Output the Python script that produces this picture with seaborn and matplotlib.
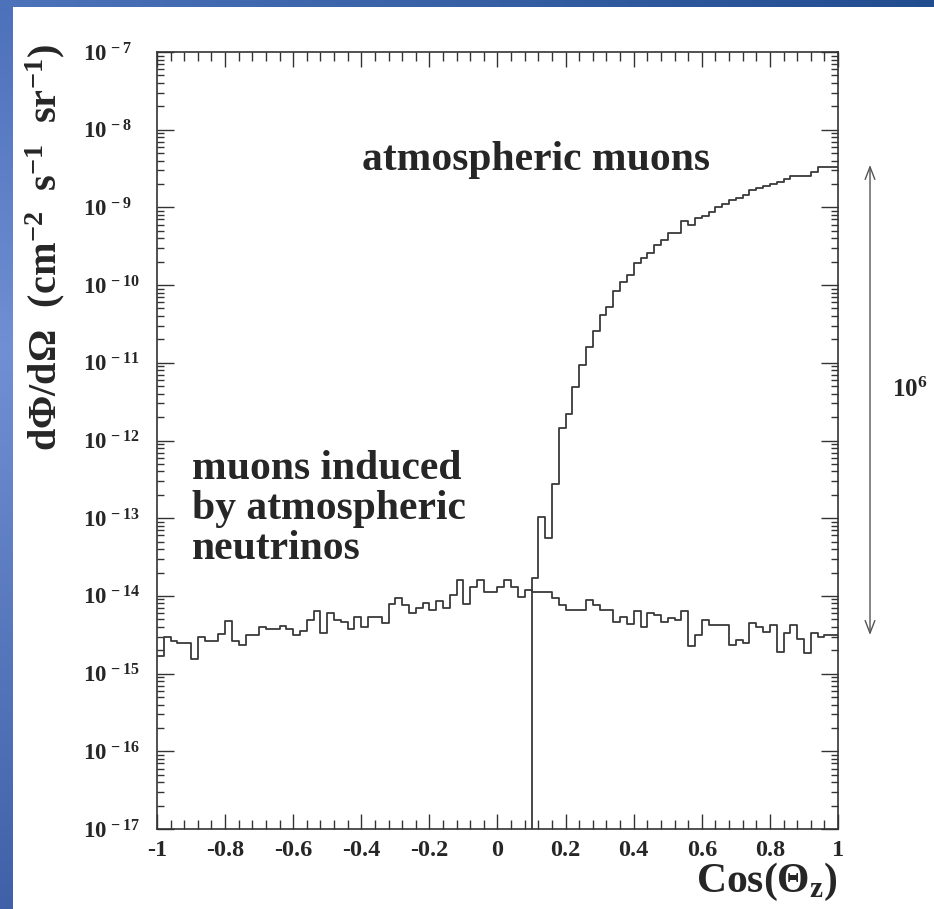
import numpy as np
import pandas as pd
import matplotlib
matplotlib.use("Agg")
import matplotlib.pyplot as plt
import seaborn as sns
from matplotlib.ticker import LogLocator, MultipleLocator, NullFormatter

# ---------------- data ----------------
bin_edges = np.round(np.arange(-1.0, 1.0001, 0.02), 2)   # 100 bins of width 0.02

nu_flux = [
    1.70e-15, 2.95e-15, 2.63e-15, 2.45e-15, 2.45e-15, 1.55e-15, 2.95e-15, 2.63e-15, 2.63e-15, 3.24e-15,
    4.79e-15, 2.63e-15, 2.34e-15, 3.16e-15, 3.16e-15, 3.98e-15, 3.80e-15, 3.80e-15, 4.07e-15, 3.80e-15,
    3.16e-15, 3.55e-15, 4.90e-15, 6.31e-15, 3.31e-15, 6.03e-15, 4.90e-15, 4.68e-15, 3.80e-15, 5.37e-15,
    3.98e-15, 5.37e-15, 5.37e-15, 4.47e-15, 7.94e-15, 9.33e-15, 7.59e-15, 6.03e-15, 6.92e-15, 8.13e-15,
    6.61e-15, 8.71e-15, 6.92e-15, 1.02e-14, 1.58e-14, 7.94e-15, 1.32e-14, 1.58e-14, 1.12e-14, 1.12e-14,
    1.32e-14, 1.62e-14, 1.32e-14, 9.55e-15, 1.20e-14, 1.12e-14, 1.12e-14, 1.12e-14, 9.33e-15, 7.59e-15,
    6.61e-15, 6.61e-15, 6.61e-15, 8.91e-15, 7.59e-15, 6.61e-15, 6.61e-15, 4.68e-15, 5.37e-15, 4.37e-15,
    6.31e-15, 3.98e-15, 6.03e-15, 5.62e-15, 4.68e-15, 5.13e-15, 4.90e-15, 6.31e-15, 2.24e-15, 3.16e-15,
    4.90e-15, 4.27e-15, 4.27e-15, 4.27e-15, 2.34e-15, 2.69e-15, 2.51e-15, 4.47e-15, 3.98e-15, 3.47e-15,
    4.27e-15, 1.91e-15, 3.31e-15, 4.17e-15, 2.82e-15, 1.82e-15, 3.31e-15, 2.95e-15, 3.16e-15, 3.16e-15,
]

mu_flux = [0.0] * 55 + [
    1.70e-14, 1.05e-13, 5.50e-14, 2.75e-13, 1.46e-12, 2.19e-12, 4.90e-12, 9.33e-12, 1.58e-11, 2.57e-11,
    4.17e-11, 5.25e-11, 8.32e-11, 1.11e-10, 1.35e-10, 1.91e-10, 2.21e-10, 2.57e-10, 3.31e-10, 3.80e-10,
    4.68e-10, 4.73e-10, 6.61e-10, 5.89e-10, 7.24e-10, 7.76e-10, 8.81e-10, 1.00e-9, 1.12e-9, 1.26e-9,
    1.32e-9, 1.45e-9, 1.66e-9, 1.78e-9, 1.86e-9, 2.00e-9, 2.14e-9, 2.29e-9, 2.51e-9, 2.51e-9,
    2.51e-9, 2.82e-9, 3.31e-9, 3.31e-9, 3.31e-9,
]

x_ticks = [-1, -0.8, -0.6, -0.4, -0.2, 0, 0.2, 0.4, 0.6, 0.8, 1]
x_tick_labels = ["-1", "-0.8", "-0.6", "-0.4", "-0.2", "0", "0.2", "0.4", "0.6", "0.8", "1"]
y_exponents = [-17, -16, -15, -14, -13, -12, -11, -10, -9, -8, -7]

label_mu = "atmospheric muons"
label_nu = ["muons induced", "by atmospheric", "neutrinos"]
ratio_label = r"$10^{6}$"
xlabel = r"$Cos(\Theta_{z})$"
ylabel = r"$d\Phi/d\Omega\ \ (cm^{-2}\;\ s^{-1}\;\ sr^{-1})$"

# ---------------- style ----------------
sns.set_style("white")
plt.rcParams.update({
    "font.family": ["Liberation Serif", "DejaVu Serif"],
    "font.weight": "bold",
    "mathtext.fontset": "custom",
    "mathtext.rm": "Liberation Serif:bold",
    "mathtext.bf": "Liberation Serif:bold",
    "mathtext.it": "Liberation Serif:bold",
    "mathtext.default": "rm",
    "axes.unicode_minus": False,
})

W, H = 934, 909
fig = plt.figure(figsize=(W / 100, H / 100), dpi=100)
fig.patch.set_facecolor("white")

# blue slide border (left and top)
bg = fig.add_axes([0, 0, 1, 1], zorder=-10)
img = np.ones((H, W, 3))
yy = np.arange(H)
left_cols = np.stack([np.interp(yy, [0, 350, H], c) for c in
                      ([0.30, 0.44, 0.25], [0.44, 0.56, 0.38], [0.73, 0.83, 0.66])], axis=1)
img[:, :13, :] = left_cols[:, None, :]
xx = np.arange(W)
top_cols = np.stack([np.interp(xx, [0, W], c) for c in
                     ([0.30, 0.13], [0.45, 0.30], [0.73, 0.56])], axis=1)
img[:7, :, :] = top_cols[None, :, :]
bg.imshow(img, aspect="auto", interpolation="bilinear")
bg.axis("off")

ax = fig.add_axes([157 / W, 1 - 829 / H, 681 / W, 777 / H])

line_color = "#3a3a3a"
df_nu = pd.DataFrame({"x": bin_edges, "y": list(nu_flux) + [nu_flux[-1]]})
df_mu = pd.DataFrame({"x": bin_edges, "y": list(mu_flux) + [mu_flux[-1]]})
sns.lineplot(data=df_nu, x="x", y="y", drawstyle="steps-post", estimator=None,
             sort=False, color=line_color, lw=1.3, ax=ax)
sns.lineplot(data=df_mu, x="x", y="y", drawstyle="steps-post", estimator=None,
             sort=False, color=line_color, lw=1.3, ax=ax)

ax.set_yscale("log", nonpositive="clip")
ax.set_xlim(-1, 1)
ax.set_ylim(1e-17, 1e-7)

ax.set_xticks(x_ticks, labels=x_tick_labels)
ax.xaxis.set_minor_locator(MultipleLocator(0.04))
ax.set_yticks([10.0 ** e for e in y_exponents],
              labels=[rf"$10^{{\,{e}}}$" for e in y_exponents])
ax.yaxis.set_minor_locator(LogLocator(base=10, subs=np.arange(2, 10), numticks=200))
ax.yaxis.set_minor_formatter(NullFormatter())

for sp in ax.spines.values():
    sp.set_visible(True)
    sp.set_linewidth(1.2)
    sp.set_color("#333333")

ax.tick_params(axis="x", which="major", direction="in", length=10.5, width=1.0,
               color="#333333", top=True, bottom=True, labelsize=17.5, pad=8)
ax.tick_params(axis="x", which="minor", direction="in", length=6.3, width=1.0,
               color="#333333", top=True, bottom=True)
ax.tick_params(axis="y", which="major", direction="in", length=12, width=1.0,
               color="#333333", left=True, right=True, labelsize=16.5, pad=53)
ax.tick_params(axis="y", which="minor", direction="in", length=5.3, width=1.0,
               color="#333333", left=True, right=True)
for lab in ax.get_yticklabels():
    lab.set_horizontalalignment("left")

ax.set_xlabel(xlabel, fontsize=30, loc="right")
ax.xaxis.set_label_coords(1.0, -0.0405)
ax.set_ylabel(ylabel, fontsize=29, loc="top")
ax.yaxis.set_label_coords(-0.132, 1.01)

ax.text(0.301, 0.848, label_mu, transform=ax.transAxes, fontsize=30,
        ha="left", va="baseline")
for i, line in enumerate(label_nu):
    ax.text(0.051, 0.451 - i * 0.0515, line, transform=ax.transAxes, fontsize=30,
            ha="left", va="baseline")

ax.annotate("", xy=(1.047, 0.8546), xytext=(1.047, 0.2497),
            xycoords="axes fraction", textcoords="axes fraction",
            arrowprops=dict(arrowstyle="<->, head_length=0.9, head_width=0.35",
                            color="#555555", lw=1.0, shrinkA=0, shrinkB=0),
            annotation_clip=False)
ax.text(1.0795, 0.565, ratio_label, transform=ax.transAxes, fontsize=18,
        ha="left", va="center", clip_on=False)

fig.savefig("out.png", dpi=100)
